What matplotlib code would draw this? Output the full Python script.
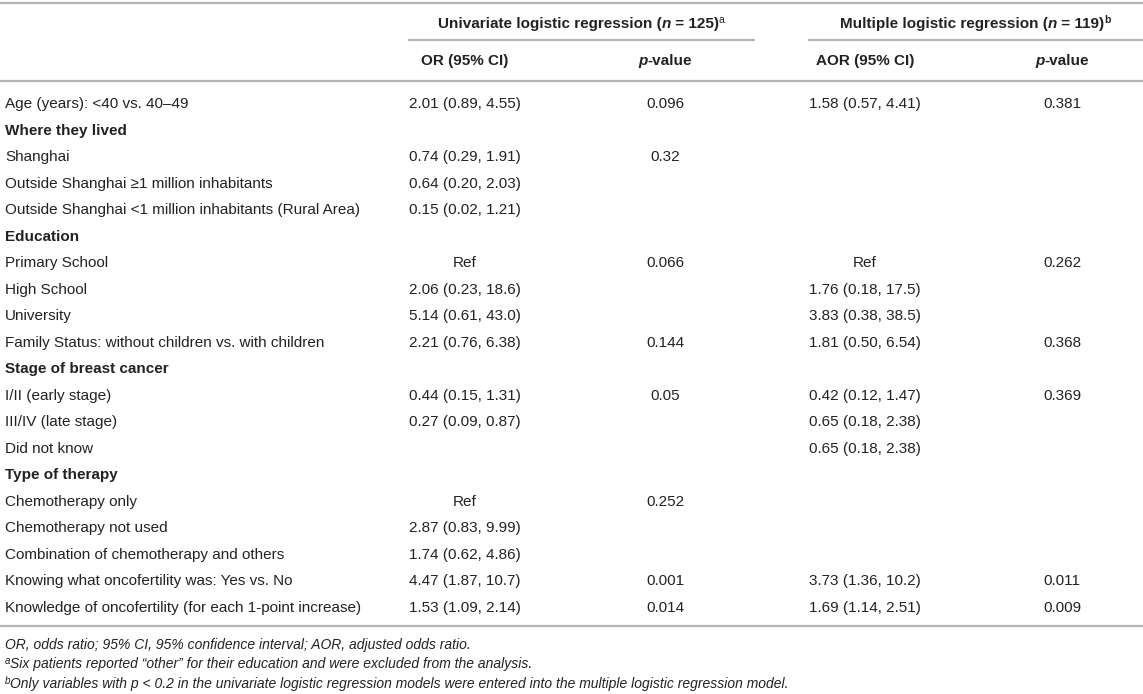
import numpy as np
import matplotlib
matplotlib.use('Agg')
from matplotlib import pyplot as plt

labels = ["Age (years): <40 vs. 40–49", "Where they lived", "Shanghai",
          "Outside Shanghai ≥1 million inhabitants",
          "Outside Shanghai <1 million inhabitants (Rural Area)",
          "Education", "Primary School", "High School", "University",
          "Family Status: without children vs. with children",
          "Stage of breast cancer", "I/II (early stage)", "III/IV (late stage)",
          "Did not know", "Type of therapy", "Chemotherapy only",
          "Chemotherapy not used", "Combination of chemotherapy and others",
          "Knowing what oncofertility was: Yes vs. No",
          "Knowledge of oncofertility (for each 1-point increase)"]
is_section = [0, 1, 0, 0, 0, 1, 0, 0, 0, 0, 1, 0, 0, 0, 1, 0, 0, 0, 0, 0]
or_ci = ["2.01 (0.89, 4.55)", "", "0.74 (0.29, 1.91)", "0.64 (0.20, 2.03)",
         "0.15 (0.02, 1.21)", "", "Ref", "2.06 (0.23, 18.6)", "5.14 (0.61, 43.0)",
         "2.21 (0.76, 6.38)", "", "0.44 (0.15, 1.31)", "0.27 (0.09, 0.87)", "",
         "", "Ref", "2.87 (0.83, 9.99)", "1.74 (0.62, 4.86)", "4.47 (1.87, 10.7)",
         "1.53 (1.09, 2.14)"]
p_uni = ["0.096", "", "0.32", "", "", "", "0.066", "", "", "0.144", "", "0.05",
         "", "", "", "0.252", "", "", "0.001", "0.014"]
aor_ci = ["1.58 (0.57, 4.41)", "", "", "", "", "", "Ref", "1.76 (0.18, 17.5)",
          "3.83 (0.38, 38.5)", "1.81 (0.50, 6.54)", "", "0.42 (0.12, 1.47)",
          "0.65 (0.18, 2.38)", "0.65 (0.18, 2.38)", "", "", "", "",
          "3.73 (1.36, 10.2)", "1.69 (1.14, 2.51)"]
p_multi = ["0.381", "", "", "", "", "", "0.262", "", "", "0.368", "", "0.369",
           "", "", "", "", "", "", "0.011", "0.009"]

col_heads = ["OR (95% CI)", "p-value", "AOR (95% CI)", "p-value"]
footnotes = ["OR, odds ratio; 95% CI, 95% confidence interval; AOR, adjusted odds ratio.",
             "Six patients reported “other” for their education and were excluded from the analysis.",
             "Only variables with p < 0.2 in the univariate logistic regression models were entered into the multiple logistic regression model."]

W, H = 1143, 694
FONT = 'Liberation Sans'
FS = 11        # body text
FS_FOOT = 10   # footnotes
TXT = '#222222'
LINE = '#b4b4b4'

fig = plt.figure(figsize=(W / 100, H / 100), dpi=100)
ax = fig.add_axes([0, 0, 1, 1])
ax.set_xlim(0, W)
ax.set_ylim(H, 0)
ax.axis('off')
renderer = fig.canvas.get_renderer()


def runs(x, y, parts, ha='left', size=FS):
    # parts: list of (text, props); draws pieces one after another on a baseline
    objs = []
    for s, p in parts:
        kw = dict(fontsize=size, family=FONT, color=TXT, va='baseline')
        kw.update(p)
        rise = kw.pop('rise', 0)
        objs.append(ax.text(0, y - rise, s, **kw))
    widths = [t.get_window_extent(renderer).width for t in objs]
    total = sum(widths)
    if ha == 'center':
        x0 = x - total / 2
    elif ha == 'right':
        x0 = x - total
    else:
        x0 = x
    for t, w in zip(objs, widths):
        t.set_x(x0)
        x0 += w


def hline(x0, x1, y):
    ax.plot([x0, x1], [y, y], color=LINE, lw=1.6, solid_capstyle='butt')


col_x = [465, 665, 865, 1062]
base = 5  # baseline offset below row centre

# rules
hline(0, W, 3)
hline(408, 755, 40)
hline(808, W, 40)
hline(0, W, 81)
row_y = 103 + np.arange(len(labels)) * (607 - 103) / (len(labels) - 1)
hline(0, W, 626)

# group headers
B = {'weight': 'bold'}
BI = {'weight': 'bold', 'style': 'italic'}
SUP = {'fontsize': FS * 0.68, 'rise': 5}
runs(581, 23 + base, [("Univariate logistic regression (", B), ("n", BI),
                      (" = 125)", B), ("a", SUP)], ha='center')
runs(975, 23 + base, [("Multiple logistic regression (", B), ("n", BI),
                      (" = 119)", B), ("b", dict(SUP, weight='bold'))], ha='center')

# column headers
for i, h in enumerate(col_heads):
    if h.startswith('p-'):
        runs(col_x[i], 60 + base, [("p", BI), (h[1:], B)], ha='center')
    else:
        runs(col_x[i], 60 + base, [(h, B)], ha='center')

# body
for i, lab in enumerate(labels):
    y = row_y[i] + base
    runs(5, y, [(lab, B if is_section[i] else {})])
    for cx, vals in zip(col_x, [or_ci, p_uni, aor_ci, p_multi]):
        if vals[i]:
            runs(cx, y, [(vals[i], {})], ha='center')

# footnotes
IT = {'style': 'italic'}
FSUP = dict(IT, fontsize=FS_FOOT * 0.7, rise=4)
foot_y = [645, 664, 684]
runs(5, foot_y[0] + 4, [(footnotes[0], IT)], size=FS_FOOT)
runs(5, foot_y[1] + 4, [("a", FSUP), (footnotes[1], IT)], size=FS_FOOT)
runs(5, foot_y[2] + 4, [("b", FSUP), (footnotes[2], IT)], size=FS_FOOT)

fig.savefig('out.png', dpi=100)
